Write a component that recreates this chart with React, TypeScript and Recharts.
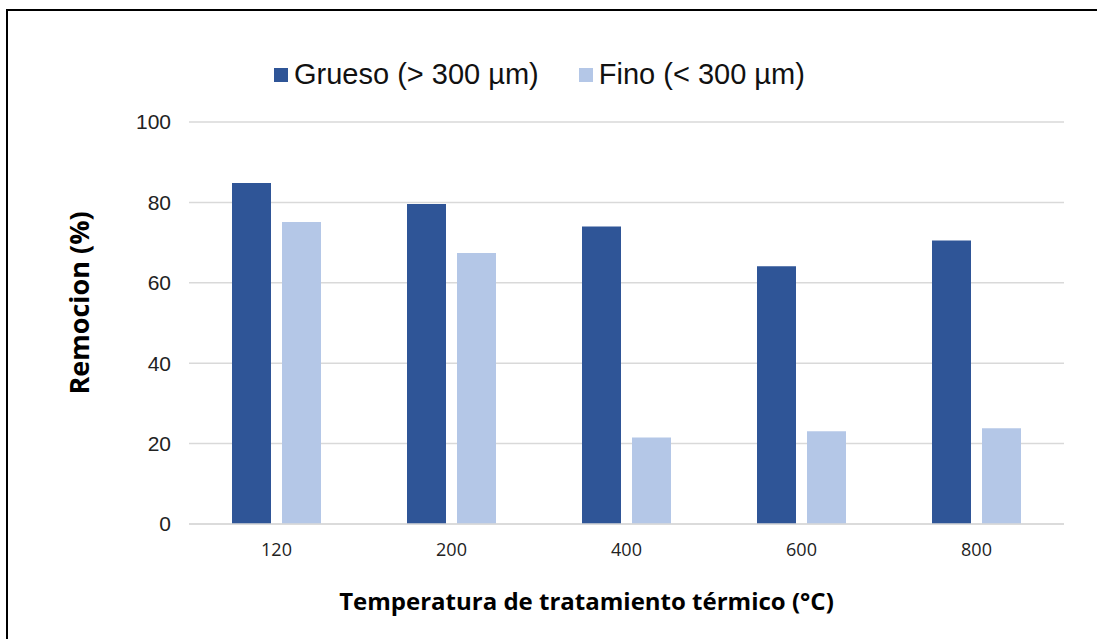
import { BarChart, Bar, XAxis, YAxis, CartesianGrid, Legend, Label } from 'recharts';

const temperatures = ['120', '200', '400', '600', '800'];
const grueso = [84.8, 79.6, 74.0, 64.1, 70.5];
const fino = [75.1, 67.4, 21.5, 23.1, 23.8];
const yTicks = [0, 20, 40, 60, 80, 100];

const seriesNames = { grueso: 'Grueso (> 300 µm)', fino: 'Fino (< 300 µm)' };
const colors = { grueso: '#2F5597', fino: '#B4C7E7' };
const seriesOrder = ['grueso', 'fino'];

const data = temperatures.map((t, i) => ({ temp: t, grueso: grueso[i], fino: fino[i] }));

// Legend drawn as coloured squares followed by Arial-style labels, in series order
// eslint-disable-next-line @typescript-eslint/no-explicit-any
const LegendContent = (props: any) => {
  // eslint-disable-next-line @typescript-eslint/no-explicit-any
  const items = [...(props.payload || [])].sort((a: any, b: any) => seriesOrder.indexOf(a.dataKey) - seriesOrder.indexOf(b.dataKey));
  return (
    <div style={{ display: 'flex', alignItems: 'center', fontFamily: '"Liberation Sans", Arial, sans-serif', fontSize: 29, color: '#111' }}>
      {/* eslint-disable-next-line @typescript-eslint/no-explicit-any */}
      {items.map((entry: any, i: number) => (
        <div key={entry.value} style={{ display: 'flex', alignItems: 'center', marginLeft: i === 0 ? 0 : 40 }}>
          <span style={{ width: 14, height: 14, background: entry.color, display: 'inline-block', marginRight: 6 }} />
          <span>{entry.value}</span>
        </div>
      ))}
    </div>
  );
};

export default function App() {
  return (
    <div style={{ position: 'absolute', left: 0, top: 0, width: 1097, height: 639, overflow: 'hidden', background: '#fff' }}>
      <div style={{ position: 'absolute', left: 6, top: 9, width: 1200, height: 700, borderTop: '2px solid #000', borderLeft: '2px solid #000' }} />
      <BarChart
        width={1097}
        height={639}
        data={data}
        margin={{ top: 122, right: 33, left: 50, bottom: 0 }}
        barSize={39}
        barGap={11}
        style={{ position: 'absolute', left: 0, top: 0 }}
      >
        <CartesianGrid vertical={false} stroke="#d9d9d9" strokeWidth={1.5} />
        <XAxis
          dataKey="temp"
          height={115}
          tickLine={false}
          axisLine={{ stroke: '#d9d9d9', strokeWidth: 1.5 }}
          tickMargin={13}
          tick={{ fontSize: 18, fill: '#222', fontFamily: '"Open Sans", sans-serif' }}
        >
          <Label
            value="Temperatura de tratamiento térmico (°C)"
            position="insideTop"
            offset={69}
            dx={-40}
            style={{ fontSize: 24, fontWeight: 700, fill: '#000', fontFamily: '"Open Sans", sans-serif' }}
          />
        </XAxis>
        <YAxis
          width={139}
          domain={[0, 100]}
          ticks={yTicks}
          axisLine={false}
          tickLine={false}
          tickMargin={12}
          tick={{ fontSize: 21, fill: '#222', fontFamily: '"Liberation Sans", Arial, sans-serif' }}
        >
          <Label
            value="Remocion (%)"
            angle={-90}
            position="insideLeft"
            offset={29}
            dy={-20}
            style={{ textAnchor: 'middle', fontSize: 27, fontWeight: 700, fill: '#000', fontFamily: '"Open Sans", sans-serif' }}
          />
        </YAxis>
        <Legend
          verticalAlign="top"
          content={<LegendContent />}
          wrapperStyle={{ top: 58, left: 274, height: 0, width: 'auto' }}
        />
        <Bar dataKey="grueso" name={seriesNames.grueso} fill={colors.grueso} isAnimationActive={false} />
        <Bar dataKey="fino" name={seriesNames.fino} fill={colors.fino} isAnimationActive={false} />
      </BarChart>
    </div>
  );
}
